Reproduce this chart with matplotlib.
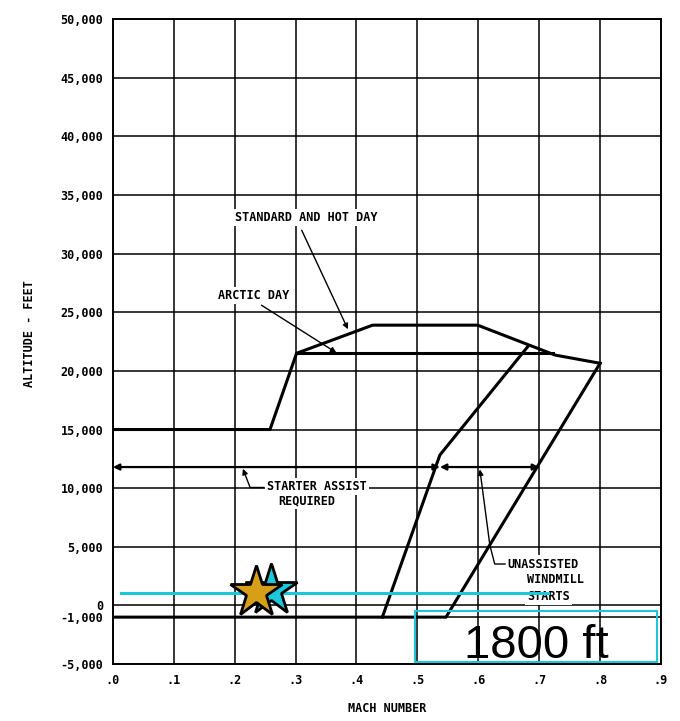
import matplotlib.pyplot as plt
from matplotlib.patches import Rectangle

# envelope curves (Mach, altitude ft)
std_mach = [0.0, 0.258, 0.3016, 0.4265, 0.599, 0.726, 0.80]
std_alt = [15000, 15000, 21500, 23900, 23900, 21350, 20650]
arctic_mach = [0.3016, 0.722]
arctic_alt = [21500, 21500]
std_windmill_mach = [0.80, 0.547, 0.0]
std_windmill_alt = [20650, -1000, -1000]
arctic_windmill_mach = [0.681, 0.537, 0.4425]
arctic_windmill_alt = [22050, 12830, -1000]

starter_alt = 11800
starter_split = [0.0, 0.537, 0.70]

field_alt = 1030
field_line_mach = [0.014, 0.714]
star_mach = [0.235, 0.259]
star_alt = [1150, 1300]

x_ticks = [0.0, 0.1, 0.2, 0.3, 0.4, 0.5, 0.6, 0.7, 0.8, 0.9]
x_labels = ['.0', '.1', '.2', '.3', '.4', '.5', '.6', '.7', '.8', '.9']
y_ticks = [-5000, -1000, 0, 5000, 10000, 15000, 20000, 25000, 30000,
           35000, 40000, 45000, 50000]
y_labels = ['{:,}'.format(v) for v in y_ticks]

gold = '#D69F17'
cyan = '#1CC7DB'
mono = {'family': 'DejaVu Sans Mono', 'weight': 'bold', 'size': 8.5}


def create_plot():
    fig = plt.figure(figsize=(6.8, 7.21), dpi=100)
    ax = fig.add_axes([0.166, 0.079, 0.806, 0.8945])
    ax.set_xlim(0, 0.9)
    ax.set_ylim(-5000, 50000)

    ax.set_xticks(x_ticks)
    ax.set_xticklabels(x_labels, fontdict=mono)
    ax.set_yticks(y_ticks)
    ax.set_yticklabels(y_labels, fontdict=mono)
    ax.tick_params(length=0, pad=7)
    ax.grid(True, color='black', lw=1.1)
    for s in ax.spines.values():
        s.set_linewidth(1.4)

    kw = dict(color='black', lw=2.2, solid_joinstyle='miter', zorder=3)
    ax.plot(std_mach, std_alt, **kw)
    ax.plot(arctic_mach, arctic_alt, **kw)
    ax.plot(std_windmill_mach, std_windmill_alt, **kw)
    ax.plot(arctic_windmill_mach, arctic_windmill_alt, **kw)

    arr = dict(arrowstyle='<|-|>', color='black', lw=1.6,
               mutation_scale=9, shrinkA=0, shrinkB=0)
    for a, b in zip(starter_split[:-1], starter_split[1:]):
        ax.annotate('', xy=(a, starter_alt), xytext=(b, starter_alt),
                    arrowprops=arr, zorder=3)

    lead = dict(arrowstyle='-|>', color='black', lw=1.0,
                mutation_scale=8, shrinkA=0, shrinkB=0)
    box = dict(facecolor='white', edgecolor='none', pad=1.5)

    ax.text(0.317, 33050, 'STANDARD AND HOT DAY', fontdict=mono,
            ha='center', va='center', bbox=box, zorder=4)
    ax.annotate('', xy=(0.386, 23550), xytext=(0.31, 32000),
                arrowprops=lead, zorder=4)
    ax.text(0.231, 26400, 'ARCTIC DAY', fontdict=mono,
            ha='center', va='center', bbox=box, zorder=4)
    ax.annotate('', xy=(0.367, 21550), xytext=(0.244, 25600),
                arrowprops=lead, zorder=4)

    ax.text(0.335, 10130, 'STARTER ASSIST', fontdict=mono,
            ha='center', va='center', bbox=box, zorder=4)
    ax.text(0.318, 8930, 'REQUIRED', fontdict=mono,
            ha='center', va='center', bbox=box, zorder=4)
    ax.plot([0.246, 0.225], [10100, 10100], color='black', lw=1.0, zorder=4)
    ax.annotate('', xy=(0.2135, 11650), xytext=(0.225, 10100),
                arrowprops=lead, zorder=4)

    ax.text(0.647, 3530, 'UNASSISTED', fontdict=mono,
            ha='left', va='center', bbox=box, zorder=4)
    ax.text(0.680, 2170, 'WINDMILL', fontdict=mono,
            ha='left', va='center', bbox=box, zorder=4)
    ax.text(0.680, 800, 'STARTS', fontdict=mono,
            ha='left', va='center', bbox=box, zorder=4)
    ax.plot([0.644, 0.627, 0.619], [3530, 3530, 5150],
            color='black', lw=1.0, zorder=4)
    ax.annotate('', xy=(0.6026, 11600), xytext=(0.619, 5150),
                arrowprops=lead, zorder=4)

    # field elevation overlay
    ax.plot(field_line_mach, [field_alt, field_alt], color=cyan, lw=2.2, zorder=5)
    ax.plot(star_mach[1], star_alt[1], marker='*', ms=39, color=cyan,
            mec='black', mew=2, zorder=6)
    ax.plot(star_mach[0], star_alt[0], marker='*', ms=39, color=gold,
            mec='black', mew=2, zorder=7)
    ax.add_patch(Rectangle((0.496, -4855), 0.398, 4403, fill=False,
                           edgecolor=cyan, lw=1.5, zorder=5))
    ax.text(0.696, -4490, '1800 ft', family='Liberation Sans', fontsize=34,
            ha='center', va='baseline', zorder=6)

    fig.text(0.044, 1 - 334 / 721, 'ALTITUDE - FEET', fontdict=mono,
             rotation=90, ha='center', va='center')
    fig.text(387 / 680, 1 - 708 / 721, 'MACH NUMBER', fontdict=mono,
             ha='center', va='center')

    plt.savefig('out.png')


if __name__ == "__main__":
    create_plot()
